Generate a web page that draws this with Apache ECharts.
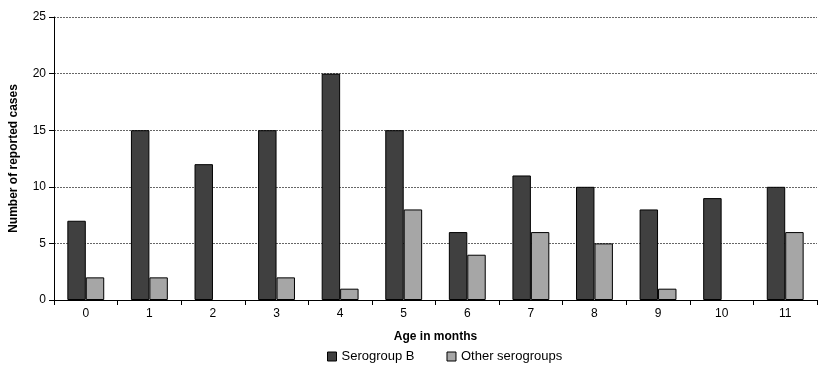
<!DOCTYPE html>
<html><head><meta charset="utf-8">
<script src="https://cdn.jsdelivr.net/npm/echarts@6/dist/echarts.min.js"></script>
<style>html,body{margin:0;padding:0;background:#fff}#c{width:830px;height:378px}</style>
</head><body><div id="c"></div>
<script>
const categories = ['0','1','2','3','4','5','6','7','8','9','10','11'];
const serogroupB = [7,15,12,15,20,15,6,11,10,8,9,10];
const otherSerogroups = [2,2,0,2,1,8,4,6,5,1,0,6];
const yTicks = [0,5,10,15,20,25];

const hideZero = arr => arr.map(v => v === 0 ? {value:0, itemStyle:{borderWidth:0}} : v);

const chart = echarts.init(document.getElementById('c'), null, {renderer:'canvas'});
const font = '"Liberation Sans", Arial, sans-serif';
chart.setOption({
  animation:false,
  textStyle:{fontFamily:font},
  grid:{left:54,right:13,top:17,bottom:78,containLabel:false,outerBoundsMode:'none'},
  legend:{
    bottom:10,left:322,itemWidth:9,itemHeight:9,itemGap:32,
    textStyle:{fontFamily:font,fontSize:13,color:'#000'},
    data:[
      {name:'Serogroup B',icon:'rect',itemStyle:{borderColor:'#000',borderWidth:1}},
      {name:'Other serogroups',icon:'rect',itemStyle:{borderColor:'#000',borderWidth:1}}
    ]
  },
  xAxis:{
    type:'category',data:categories,
    name:'Age in months',nameLocation:'middle',nameGap:31,
    nameTextStyle:{fontFamily:font,fontWeight:'bold',fontSize:12,color:'#000'},
    axisLine:{lineStyle:{color:'#000',width:1}},
    axisTick:{show:true,alignWithLabel:false,length:5,lineStyle:{color:'#000'}},
    axisLabel:{fontFamily:font,fontSize:12,color:'#000',margin:8}
  },
  yAxis:{
    type:'value',min:0,max:25,interval:5,
    name:'Number of reported cases',nameLocation:'middle',nameGap:34,
    nameTextStyle:{fontFamily:font,fontWeight:'bold',fontSize:12,color:'#000'},
    axisLine:{show:true,lineStyle:{color:'#000',width:1}},
    axisTick:{show:true,length:5,lineStyle:{color:'#000'}},
    axisLabel:{fontFamily:font,fontSize:12,color:'#000',margin:8,
      formatter:v=>yTicks.includes(v)?String(v):''},
    splitLine:{show:true,lineStyle:{color:'#666',type:[2,1],width:1}}
  },
  series:[
    {name:'Serogroup B',type:'bar',data:hideZero(serogroupB),barGap:'0%',barCategoryGap:'42%',
     itemStyle:{color:'#404040',borderColor:'#000',borderWidth:1}},
    {name:'Other serogroups',type:'bar',data:hideZero(otherSerogroups),
     itemStyle:{color:'#a6a6a6',borderColor:'#000',borderWidth:1}}
  ]
});
</script></body></html>
